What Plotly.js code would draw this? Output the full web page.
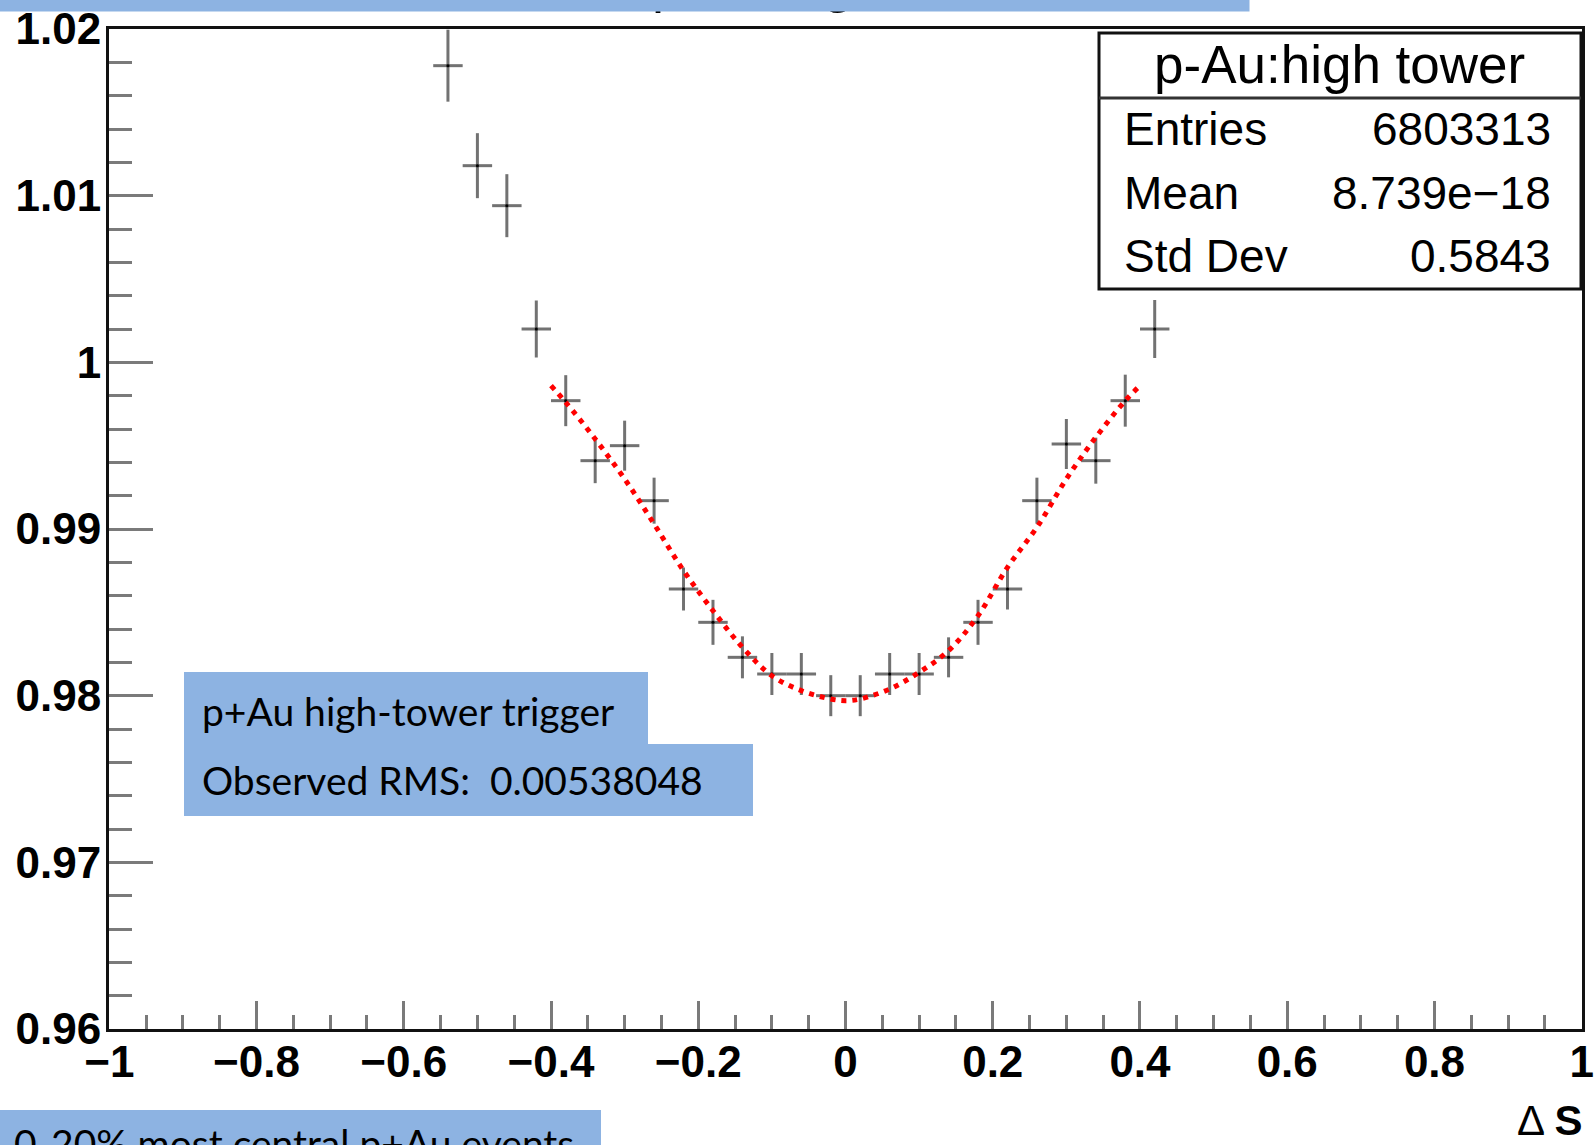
<!DOCTYPE html>
<html>
<head>
<meta charset="utf-8">
<script src="https://cdn.plot.ly/plotly-3.0.1.min.js"></script>
<style>html,body{margin:0;padding:0;background:#fff;}#chart{width:1594px;height:1145px;}</style>
</head>
<body>
<div id="chart"></div>
<script>
// ---- data ----
var binCenters = [-0.54,-0.50,-0.46,-0.42,-0.38,-0.34,-0.30,-0.26,-0.22,-0.18,-0.14,-0.10,-0.06,-0.02,
                  0.02,0.06,0.10,0.14,0.18,0.22,0.26,0.30,0.34,0.38,0.42];
var binValues = [1.0178,1.0118,1.0094,1.0020,0.9977,0.9941,0.9950,0.9917,0.9864,0.9844,0.9823,0.9813,0.9813,0.9800,
                 0.9800,0.9813,0.9813,0.9823,0.9844,0.9864,0.9917,0.9951,0.9941,0.9977,1.0020];
var binErrors = [0.00216,0.00195,0.00189,0.00171,0.00153,0.00135,0.00150,0.00138,0.00129,0.00135,0.00126,0.00126,0.00126,0.00123,
                 0.00123,0.00126,0.00126,0.00120,0.00135,0.00123,0.00138,0.00150,0.00138,0.00156,0.00174];
var binHalfWidth = 0.02;

var fitX = [-0.40,-0.38,-0.34,-0.30,-0.26,-0.22,-0.18,-0.14,-0.10,-0.06,-0.02,0.00,
            0.02,0.06,0.10,0.14,0.18,0.22,0.26,0.30,0.34,0.38,0.40];
var fitY = [0.9986,0.9976,0.9954,0.9930,0.9903,0.9875,0.9851,0.9829,0.9812,0.9803,0.9798,0.9797,
            0.9798,0.9804,0.9814,0.9827,0.9848,0.9877,0.9901,0.9930,0.9955,0.9977,0.9986];

var xTickVals = [-1,-0.8,-0.6,-0.4,-0.2,0,0.2,0.4,0.6,0.8,1];
var xTickText = ['\u22121','\u22120.8','\u22120.6','\u22120.4','\u22120.2','0','0.2','0.4','0.6','0.8','1'];
var yTickVals = [0.96,0.97,0.98,0.99,1,1.01,1.02];
var yTickText = ['0.96','0.97','0.98','0.99','1','1.01','1.02'];

var statsTitle = 'p-Au:high tower';
var statsLabels = ['Entries','Mean','Std Dev'];
var statsValues = ['6803313','8.739e\u221218','0.5843'];
var histTitle = 'p-Au:high tower';
var xAxisTitle = '<span style="font-weight:normal">\u0394</span> <b>S</b>';
var note1 = 'p+Au high-tower trigger';
var note2 = 'Observed RMS:\u00a0 0.00538048';
var note3 = '0-20% most central p+Au events';

// ---- layout geometry (pixels) ----
var L = 109, R = 1582, T = 29, B = 1029;
function px(p){ return (p - L) / (R - L); }
function py(p){ return (B - p) / (B - T); }
var ROOTFONT = 'Liberation Sans, Arial, sans-serif';
var NOTEFONT = 'Lato, Open Sans, sans-serif';
var BLUE = '#8db3e2';
var ERRCOL = 'rgba(60,60,60,0.72)';

var traces = [
  {
    x: binCenters, y: binValues, type: 'scatter', mode: 'markers',
    marker: {color: '#000', size: 3},
    error_y: {type: 'data', array: binErrors, visible: true, color: ERRCOL, thickness: 3, width: 0},
    error_x: {type: 'constant', value: binHalfWidth, visible: true, color: ERRCOL, thickness: 3, width: 0},
    hoverinfo: 'x+y', showlegend: false, cliponaxis: true
  },
  {
    x: fitX, y: fitY, type: 'scatter', mode: 'lines',
    line: {color: '#ff0000', width: 5, dash: '5px,6px', shape: 'spline'},
    showlegend: false
  }
];

var annotations = [];
// histogram title, almost entirely hidden under the blue bar (only descenders peek out)
annotations.push({xref:'paper', yref:'paper', x: px(651), y: py(14), xanchor:'left', yanchor:'bottom',
  text: histTitle, showarrow:false, font:{family: ROOTFONT, size: 54, color:'#000'}, borderpad:0});
// top blue bar drawn over it
annotations.push({xref:'paper', yref:'paper', x: px(-2), y: py(-30), xanchor:'left', yanchor:'top',
  text:' ', showarrow:false, width:1250, height:40, bgcolor: BLUE, borderpad:0, font:{size:6}});
// stats box texts
annotations.push({xref:'paper', yref:'paper', x: px(1339), y: py(64), xanchor:'center', yanchor:'middle',
  text: statsTitle, showarrow:false, font:{family: ROOTFONT, size: 53, color:'#000'}});
var rowY = [129, 193, 256];
for (var i = 0; i < statsLabels.length; i++) {
  annotations.push({xref:'paper', yref:'paper', x: px(1122), y: py(rowY[i]), xanchor:'left', yanchor:'middle',
    text: statsLabels[i], showarrow:false, font:{family: ROOTFONT, size: 46, color:'#000'}});
  annotations.push({xref:'paper', yref:'paper', x: px(1553), y: py(rowY[i]), xanchor:'right', yanchor:'middle',
    text: statsValues[i], showarrow:false, font:{family: ROOTFONT, size: 46, color:'#000'}});
}
// x axis title
annotations.push({xref:'paper', yref:'paper', x: px(1584), y: py(1120), xanchor:'right', yanchor:'middle',
  text: xAxisTitle, showarrow:false, font:{family: ROOTFONT, size: 42, color:'#000'}});
// notes
annotations.push({xref:'paper', yref:'paper', x: px(200), y: py(711), xanchor:'left', yanchor:'middle',
  text: note1, showarrow:false, font:{family: NOTEFONT, size: 39, color:'#000'}});
annotations.push({xref:'paper', yref:'paper', x: px(200), y: py(780), xanchor:'left', yanchor:'middle',
  text: note2, showarrow:false, font:{family: NOTEFONT, size: 39, color:'#000'}});
annotations.push({xref:'paper', yref:'paper', x: px(12), y: py(1118), xanchor:'left', yanchor:'top',
  text: note3, showarrow:false, font:{family: NOTEFONT, size: 39, color:'#000'}});

var shapes = [
  // note boxes
  {type:'rect', xref:'paper', yref:'paper', x0: px(184), x1: px(648), y0: py(672), y1: py(745), fillcolor: BLUE, line:{width:0}, layer:'above'},
  {type:'rect', xref:'paper', yref:'paper', x0: px(184), x1: px(753), y0: py(744), y1: py(816), fillcolor: BLUE, line:{width:0}, layer:'above'},
  {type:'rect', xref:'paper', yref:'paper', x0: px(0), x1: px(601), y0: py(1110), y1: py(1160), fillcolor: BLUE, line:{width:0}, layer:'above'},
  // stats box
  {type:'rect', xref:'paper', yref:'paper', x0: px(1099), x1: px(1581), y0: py(289), y1: py(33), fillcolor:'#fff', line:{color:'#111', width:3}, layer:'above'},
  {type:'line', xref:'paper', yref:'paper', x0: px(1099), x1: px(1581), y0: py(98), y1: py(98), line:{color:'#333', width:3}, layer:'above'}
];

var layout = {
  width: 1594, height: 1145,
  margin: {l: L, r: 1594 - R, t: T, b: 1145 - B, pad: 0},
  paper_bgcolor: '#fff', plot_bgcolor: '#fff',
  showlegend: false,
  xaxis: {
    range: [-1.0004, 1.0004], tickmode: 'array', tickvals: xTickVals, ticktext: xTickText,
    ticks: 'inside', ticklen: 28, tickwidth: 3, tickcolor: '#7a7a7a',
    minor: {ticks: 'inside', dtick: 0.05, tick0: 0, ticklen: 14, tickwidth: 3, tickcolor: '#7a7a7a', showgrid: false},
    showline: true, linecolor: '#111', linewidth: 3, mirror: true,
    showgrid: false, zeroline: false,
    tickfont: {family: ROOTFONT, size: 44, color: '#000', weight: 'bold'},
    ticklabelstandoff: -8
  },
  yaxis: {
    range: [0.96, 1.02], tickmode: 'array', tickvals: yTickVals, ticktext: yTickText,
    ticks: 'inside', ticklen: 44, tickwidth: 3, tickcolor: '#7a7a7a',
    minor: {ticks: 'inside', dtick: 0.002, tick0: 0.96, ticklen: 23, tickwidth: 3, tickcolor: '#7a7a7a', showgrid: false},
    showline: true, linecolor: '#111', linewidth: 3, mirror: true,
    showgrid: false, zeroline: false,
    tickfont: {family: ROOTFONT, size: 44, color: '#000', weight: 'bold'},
    ticklabelstandoff: -4
  },
  shapes: shapes,
  annotations: annotations
};

Plotly.newPlot('chart', traces, layout, {displayModeBar: false, staticPlot: true});
</script>
</body>
</html>
